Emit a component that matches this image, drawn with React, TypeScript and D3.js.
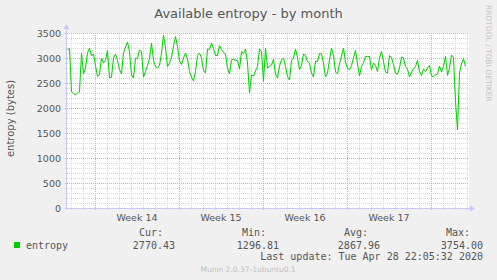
import React from "react";
import * as d3 from "d3";

// ---- data ----
const TITLE = "Available entropy - by month";
const Y_LABEL = "entropy (bytes)";
const SERIES_NAME = "entropy";
const STEP_HOURS = 4;
const START = Date.UTC(2020, 2, 27, 17);
const DOMAIN_START = Date.UTC(2020, 2, 27, 16);
const DOMAIN_END = Date.UTC(2020, 3, 30, 4);
const Y_TICKS = [0, 500, 1000, 1500, 2000, 2500, 3000, 3500];
const WEEKS = [
  { label: "Week 14", start: Date.UTC(2020, 2, 30) },
  { label: "Week 15", start: Date.UTC(2020, 3, 6) },
  { label: "Week 16", start: Date.UTC(2020, 3, 13) },
  { label: "Week 17", start: Date.UTC(2020, 3, 20) },
  { label: "", start: Date.UTC(2020, 3, 27) },
];
const LEGEND_HEADERS = ["Cur:", "Min:", "Avg:", "Max:"];
const LEGEND_VALUES = ["2770.43", "1296.81", "2867.96", "3754.00"];
const LAST_UPDATE = "Last update: Tue Apr 28 22:05:32 2020";
const FOOTER = "Munin 2.0.37-1ubuntu0.1";
const WATERMARK = "RRDTOOL / TOBI OETIKER";

const VALUES = [
  3170, 3190, 2320, 2290, 2260, 2300, 2330, 3100, 2680, 2800,
  3100, 3200, 3040, 3080, 2850, 2630, 2670, 3000, 2900, 2950,
  3150, 2600, 2620, 3000, 3080, 2950, 2770, 2680, 3100, 3220,
  3320, 3130, 2660, 2600, 3000, 2990, 3160, 3130, 2620, 2730,
  2850, 2990, 3300, 2950, 2830, 2800, 2850, 3100, 3460, 3200,
  2830, 2900, 3010, 3240, 3430, 3220, 2950, 2870, 3000, 3100,
  2980, 2730, 2620, 2540, 2730, 3050, 3100, 3000, 2750, 2700,
  3180, 3170, 3300, 3190, 3050, 3050, 3250, 3170, 3110, 3080,
  2800, 2680, 2960, 2980, 2950, 2950, 2780, 3130, 3090, 3180,
  2900, 2300, 2660, 2640, 2740, 2830, 3180, 3130, 2530, 3200,
  2800, 2830, 2860, 2970, 2680, 2600, 2840, 2960, 3000, 2830,
  2630, 2560, 2950, 3000, 3180, 3000, 2770, 2850, 3080, 3050,
  2930, 2900, 2700, 2620, 2940, 2930, 3090, 3080, 2900, 2620,
  2700, 2960, 3200, 3050, 2720, 2680, 2880, 3040, 3200, 2920,
  2800, 2760, 2850, 3000, 3150, 2880, 2640, 2830, 2900, 3030,
  3030, 3030, 2760, 2900, 2850, 2730, 3000, 3130, 2930, 2720,
  2700, 3050, 3010, 2870, 2690, 2680, 2800, 3020, 3000, 2830,
  2780, 2620, 2720, 2780, 2830, 2950, 2730, 2650, 2780, 2730,
  2800, 2850, 2640, 2630, 2660, 2680, 2840, 2720, 2840, 3030,
  2650, 2800, 3060, 3010, 2130, 1560, 2700, 2880, 2990, 2830,
];

const W = 497;
const H = 280;
const PLOT = { left: 67, right: 469, top: 33, bottom: 208 };
const GREEN = "#00cc00";
const AXIS = "#c8c8f8";
const MAJOR = "#f2a0a0";
const MINOR = "#d8d8d8";
const TEXT = "#555555";
const SANS = "DejaVu Sans, sans-serif";
const MONO = "DejaVu Sans Mono, monospace";

export default function App() {
  const x = d3.scaleUtc().domain([DOMAIN_START, DOMAIN_END]).range([PLOT.left, PLOT.right]);
  const y = d3.scaleLinear().domain([0, 3500]).range([PLOT.bottom, PLOT.top]);

  const data = VALUES.map((v, i) => ({ t: START + i * STEP_HOURS * 3600 * 1000, v }));
  const line = d3
    .line<{ t: number; v: number }>()
    .x((d) => x(d.t))
    .y((d) => y(d.v));

  const days = d3.utcDay.range(new Date(DOMAIN_START), new Date(DOMAIN_END));
  const minorY = d3.range(100, 3501, 100).filter((v) => v % 500 !== 0);
  const weekSet = new Set(WEEKS.map((w) => w.start));

  const legendCols = [175, 279, 380, 483];
  const headerCols = [163, 266, 368, 470];

  return (
    <svg
      width={W}
      height={H}
      style={{ position: "absolute", left: 0, top: 0, display: "block" }}
      fontFamily={SANS}
    >
      <rect x={0} y={0} width={W} height={H} fill="#f0f0f0" />
      <rect
        x={PLOT.left}
        y={PLOT.top}
        width={PLOT.right - PLOT.left}
        height={PLOT.bottom - PLOT.top}
        fill="#ffffff"
      />
      {/* minor horizontal grid */}
      {minorY.map((v) => (
        <line
          key={"mh" + v}
          x1={PLOT.left - 2}
          x2={PLOT.right}
          y1={Math.round(y(v)) + 0.5}
          y2={Math.round(y(v)) + 0.5}
          stroke={MINOR}
          strokeDasharray="1,1"
        />
      ))}
      {/* minor vertical grid (days) */}
      {days
        .filter((d) => !weekSet.has(d.getTime()))
        .map((d) => (
          <line
            key={"mv" + d.getTime()}
            x1={Math.round(x(d)) + 0.5}
            x2={Math.round(x(d)) + 0.5}
            y1={PLOT.top}
            y2={PLOT.bottom + 2}
            stroke={MINOR}
            strokeDasharray="1,1"
          />
        ))}
      {/* major horizontal grid */}
      {Y_TICKS.filter((v) => v > 0).map((v) => (
        <line
          key={"Mh" + v}
          x1={PLOT.left - 2}
          x2={PLOT.right}
          y1={Math.round(y(v)) + 0.5}
          y2={Math.round(y(v)) + 0.5}
          stroke={MAJOR}
          strokeDasharray="1,1"
        />
      ))}
      {/* major vertical grid (weeks) */}
      {WEEKS.map((w) => (
        <line
          key={"Mv" + w.start}
          x1={Math.round(x(w.start)) + 0.5}
          x2={Math.round(x(w.start)) + 0.5}
          y1={PLOT.top}
          y2={PLOT.bottom + 3}
          stroke={MAJOR}
          strokeDasharray="1,1"
        />
      ))}
      {/* axes */}
      <line x1={PLOT.left - 2} x2={PLOT.right + 1} y1={PLOT.bottom + 0.5} y2={PLOT.bottom + 0.5} stroke={AXIS} />
      <line x1={PLOT.left - 0.5} x2={PLOT.left - 0.5} y1={PLOT.bottom + 2} y2={PLOT.top - 4} stroke={AXIS} />
      <path
        d={`M${PLOT.right + 1},${PLOT.bottom - 2.5} L${PLOT.right + 6},${PLOT.bottom + 0.5} L${PLOT.right + 1},${PLOT.bottom + 3.5} Z`}
        fill={AXIS}
      />
      <path
        d={`M${PLOT.left - 3.5},${PLOT.top - 4} L${PLOT.left - 0.5},${PLOT.top - 9} L${PLOT.left + 2.5},${PLOT.top - 4} Z`}
        fill={AXIS}
      />
      {/* data line */}
      <path d={line(data) || ""} fill="none" stroke={GREEN} strokeWidth={1} />

      {/* y tick labels */}
      {Y_TICKS.map((v) => (
        <text
          key={"yt" + v}
          x={61}
          y={y(v) + 3.5}
          textAnchor="end"
          fontSize={9.5}
          fill={TEXT}
        >
          {v}
        </text>
      ))}
      {/* week labels */}
      {WEEKS.filter((w) => w.label).map((w) => (
        <text
          key={"wl" + w.start}
          x={x(w.start + 3.5 * 86400000)}
          y={221}
          textAnchor="middle"
          fontSize={9.5}
          fill={TEXT}
        >
          {w.label}
        </text>
      ))}
      {/* title */}
      <text x={248.5} y={18} textAnchor="middle" fontSize={13} fill={TEXT}>
        {TITLE}
      </text>
      {/* y label */}
      <text
        transform={`translate(14, ${(PLOT.top + PLOT.bottom) / 2 - 2}) rotate(-90)`}
        textAnchor="middle"
        fontSize={10}
        fill={TEXT}
      >
        {Y_LABEL}
      </text>
      {/* watermark */}
      <text
        transform={`translate(486, 5) rotate(90)`}
        textAnchor="start"
        fontSize={7.5}
        fill="#c4c4c4"
      >
        {WATERMARK}
      </text>
      {/* legend */}
      {LEGEND_HEADERS.map((h, i) => (
        <text key={"lh" + i} x={headerCols[i]} y={236} textAnchor="end" fontFamily={MONO} fontSize={10} fill={TEXT}>
          {h}
        </text>
      ))}
      <rect x={14} y={242} width={6} height={6} fill={GREEN} />
      <text x={26} y={248.5} fontFamily={MONO} fontSize={10} fill={TEXT}>
        {SERIES_NAME}
      </text>
      {LEGEND_VALUES.map((v, i) => (
        <text key={"lv" + i} x={legendCols[i]} y={248.5} textAnchor="end" fontFamily={MONO} fontSize={10} fill={TEXT}>
          {v}
        </text>
      ))}
      <text x={483} y={260} textAnchor="end" fontFamily={MONO} fontSize={10} fill={TEXT}>
        {LAST_UPDATE}
      </text>
      <text x={248} y={272} textAnchor="middle" fontSize={7.5} fill="#c0c0c0">
        {FOOTER}
      </text>
    </svg>
  );
}
